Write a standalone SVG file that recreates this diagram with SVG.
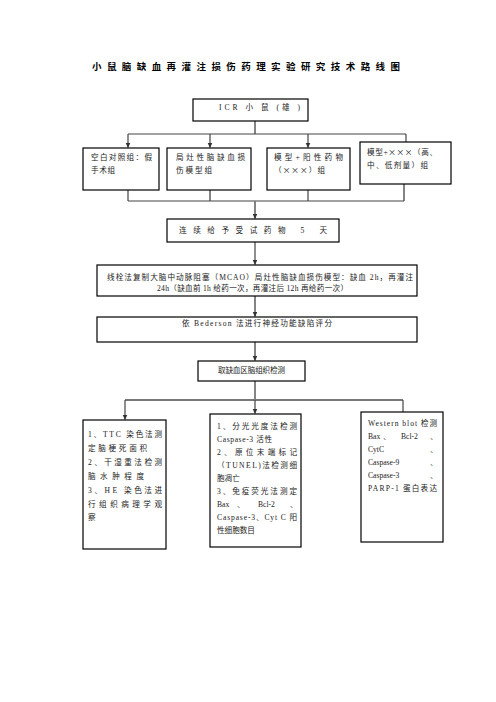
<svg xmlns="http://www.w3.org/2000/svg" width="496" height="702" viewBox="0 0 496 702">
<defs>
<marker id="ah" markerWidth="6" markerHeight="6" refX="5" refY="3" orient="auto" markerUnits="userSpaceOnUse" viewBox="0 0 6 6">
<path d="M0,0.5 L5.5,3 L0,5.5 Z" fill="#333"/>
</marker>
<style>
.box{fill:#fff;stroke:#000;stroke-width:1.2}
.t{font-family:"Liberation Serif","Noto Sans CJK SC",serif;font-size:7.6px;fill:#222}
.x{font-family:"Noto Sans CJK SC",sans-serif}
.title{font-family:"Liberation Serif","Noto Sans CJK SC",serif;font-size:9.5px;font-weight:bold;fill:#000}
.c{fill:none;stroke:#444;stroke-width:1.2}
.trunk{fill:none;stroke:#777;stroke-width:1.8}
</style>
</defs>
<rect width="496" height="702" fill="#fff"/>
<text class="title" x="92" y="70" textLength="308" lengthAdjust="spacing">小鼠脑缺血再灌注损伤药理实验研究技术路线图</text>

<g id="connectors">
<line class="trunk" x1="255" y1="121" x2="255" y2="134"/>
<line class="c" x1="128" y1="134" x2="406" y2="134"/>
<line class="c" x1="128" y1="134" x2="128" y2="147.5" marker-end="url(#ah)"/>
<line class="c" x1="210" y1="134" x2="210" y2="147.5" marker-end="url(#ah)"/>
<line class="c" x1="308" y1="134" x2="308" y2="147.5" marker-end="url(#ah)"/>
<line class="c" x1="406" y1="134" x2="406" y2="142"/>
<line class="c" x1="128" y1="190" x2="128" y2="201"/>
<line class="trunk" x1="210" y1="190" x2="210" y2="201"/>
<line class="c" x1="308" y1="190" x2="308" y2="201"/>
<line class="trunk" x1="404" y1="184" x2="404" y2="201"/>
<line class="c" x1="128" y1="201" x2="404" y2="201"/>
<line class="trunk" x1="255" y1="201" x2="255" y2="218.5" marker-end="url(#ah)"/>
<line class="c" x1="255" y1="242" x2="255" y2="264.5" marker-end="url(#ah)"/>
<line class="trunk" x1="255" y1="296" x2="255" y2="316.5" marker-end="url(#ah)"/>
<line class="trunk" x1="255" y1="342" x2="255" y2="360.5" marker-end="url(#ah)"/>
<line class="trunk" x1="255" y1="381" x2="255" y2="400"/>
<line class="trunk" x1="125" y1="400" x2="403" y2="400"/>
<line class="c" x1="125" y1="400" x2="125" y2="419.5" marker-end="url(#ah)"/>
<line class="c" x1="255" y1="400" x2="255" y2="413.5" marker-end="url(#ah)"/>
<line class="c" x1="403" y1="400" x2="403" y2="412"/>
</g>

<g id="icr">
<rect class="box" x="193" y="99" width="115" height="22"/>
<text class="t" x="219" y="110" textLength="81" lengthAdjust="spacing">ICR 小 鼠 (雄 )</text>
</g>

<g id="g1">
<rect class="box" x="83" y="148" width="76" height="42"/>
<text class="t" x="91" y="160" textLength="61" lengthAdjust="spacing">空白对照组：假</text>
<text class="t" x="91" y="173" textLength="24" lengthAdjust="spacing">手术组</text>
</g>
<g id="g2">
<rect class="box" x="167" y="148" width="84" height="42"/>
<text class="t" x="176" y="160" textLength="69" lengthAdjust="spacing">局灶性脑缺血损</text>
<text class="t" x="176" y="173" textLength="36" lengthAdjust="spacing">伤模型组</text>
</g>
<g id="g3">
<rect class="box" x="267" y="148" width="83" height="42"/>
<text class="t" x="274" y="160" textLength="69" lengthAdjust="spacing">模型+阳性药物</text>
<text class="t" x="274" y="173" textLength="51" lengthAdjust="spacing">（<tspan class="x">×××</tspan>）组</text>
</g>
<g id="g4">
<rect class="box" x="360" y="142" width="91" height="42"/>
<text class="t" x="367" y="155" textLength="70" lengthAdjust="spacing">模型+<tspan class="x">×××</tspan>（高、</text>
<text class="t" x="367" y="168" textLength="61" lengthAdjust="spacing">中、低剂量）组</text>
</g>

<g id="dose">
<rect class="box" x="167" y="219" width="172" height="23"/>
<text class="t" x="179" y="233" textLength="148" lengthAdjust="spacing">连续给予受试药物 5 天</text>
</g>

<g id="mcao">
<rect class="box" x="97" y="265" width="320" height="31"/>
<text class="t" x="107" y="280" textLength="306" lengthAdjust="spacing">线栓法复制大脑中动脉阻塞（MCAO）局灶性脑缺血损伤模型：缺血 2h，再灌注</text>
<text class="t" x="157" y="291" textLength="191" lengthAdjust="spacing">24h（缺血前 1h 给药一次，再灌注后 12h 再给药一次）</text>
</g>

<g id="bederson">
<rect class="box" x="97" y="317" width="320" height="25"/>
<text class="t" x="182" y="326" textLength="150" lengthAdjust="spacing">依 Bederson 法进行神经功能缺陷评分</text>
</g>

<g id="sample">
<rect class="box" x="198" y="361" width="107" height="20"/>
<text class="t" x="218" y="373" textLength="67" lengthAdjust="spacing">取缺血区脑组织检测</text>
</g>

<g id="b1">
<rect class="box" x="83" y="420" width="83" height="129"/>
<text class="t" x="88" y="437" textLength="74" lengthAdjust="spacing">1、TTC 染色法测</text>
<text class="t" x="88" y="451" textLength="59" lengthAdjust="spacing">定脑梗死面积</text>
<text class="t" x="88" y="465" textLength="74" lengthAdjust="spacing">2、干湿重法检测</text>
<text class="t" x="88" y="479" textLength="56" lengthAdjust="spacing">脑水肿程度</text>
<text class="t" x="88" y="493" textLength="74" lengthAdjust="spacing">3、HE 染色法进</text>
<text class="t" x="88" y="507" textLength="74" lengthAdjust="spacing">行组织病理学观</text>
<text class="t" x="88" y="520">察</text>
</g>

<g id="b2">
<rect class="box" x="210" y="414" width="91" height="133"/>
<text class="t" x="217" y="429" textLength="80" lengthAdjust="spacing">1、分光光度法检测</text>
<text class="t" x="217" y="442" textLength="55" lengthAdjust="spacing">Caspase-3 活性</text>
<text class="t" x="217" y="455" textLength="80" lengthAdjust="spacing">2、原位末端标记</text>
<text class="t" x="217" y="468" textLength="80" lengthAdjust="spacing">（TUNEL)法检测细</text>
<text class="t" x="217" y="481">胞凋亡</text>
<text class="t" x="217" y="494" textLength="80" lengthAdjust="spacing">3、免疫荧光法测定</text>
<text class="t" x="217" y="507">Bax</text>
<text class="t" x="237" y="507">、</text>
<text class="t" x="258" y="507">Bcl-2</text>
<text class="t" x="290" y="507">、</text>
<text class="t" x="217" y="520" textLength="80" lengthAdjust="spacing">Caspase-3、Cyt C 阳</text>
<text class="t" x="217" y="533">性细胞数目</text>
</g>

<g id="b3">
<rect class="box" x="361" y="412" width="82" height="130"/>
<text class="t" x="368" y="426" textLength="69" lengthAdjust="spacing">Western blot 检测</text>
<text class="t" x="368" y="439">Bax</text>
<text class="t" x="383" y="439">、</text>
<text class="t" x="401" y="439">Bcl-2</text>
<text class="t" x="430" y="439">、</text>
<text class="t" x="368" y="452">CytC</text>
<text class="t" x="430" y="452">、</text>
<text class="t" x="368" y="465">Caspase-9</text>
<text class="t" x="430" y="465">、</text>
<text class="t" x="368" y="478">Caspase-3</text>
<text class="t" x="430" y="478">、</text>
<text class="t" x="368" y="491" textLength="69" lengthAdjust="spacing">PARP-1 蛋白表达</text>
</g>
</svg>
